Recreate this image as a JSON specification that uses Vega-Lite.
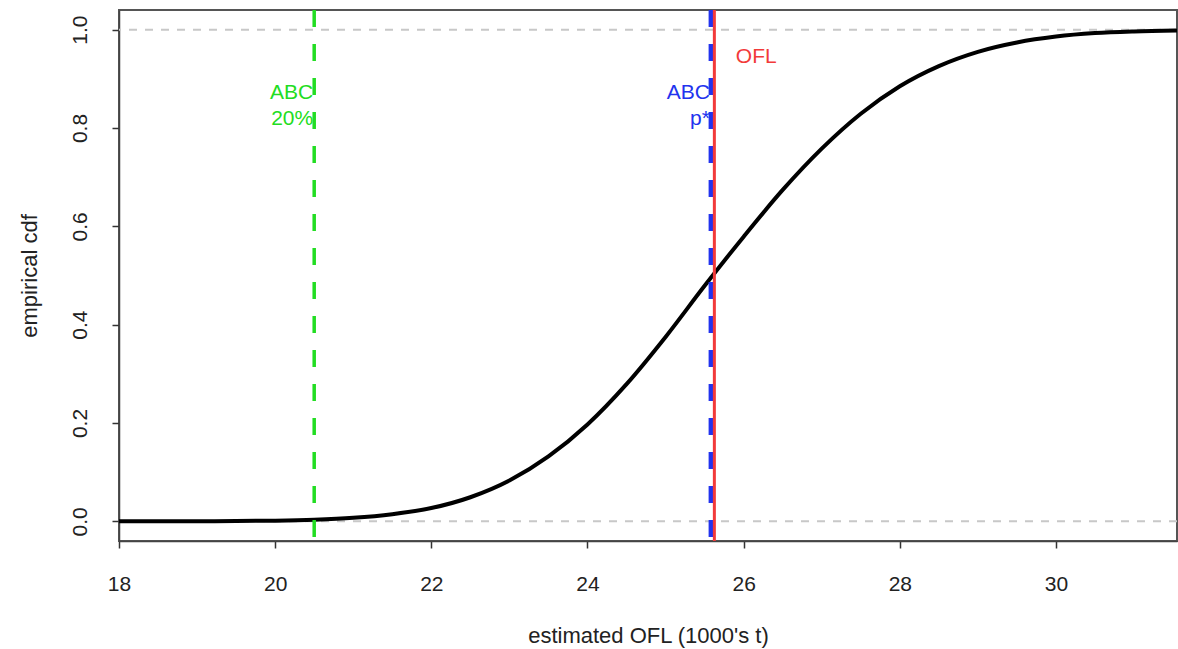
{
  "$schema": "https://vega.github.io/schema/vega-lite/v6.json",
  "width": 1058,
  "height": 531,
  "autosize": "none",
  "padding": {"left": 119, "top": 10, "right": 1, "bottom": 108},
  "background": "white",
  "config": {
    "font": "Liberation Sans",
    "view": {"stroke": "#555555", "strokeWidth": 2},
    "axis": {"grid": false, "labelFlush": false, "labelOverlap": false}
  },
  "datasets": {
    "curve": [
      {"ofl": 18.0, "cdf": 0.0},
      {"ofl": 18.5, "cdf": 0.0},
      {"ofl": 19.0, "cdf": 0.0002},
      {"ofl": 19.5, "cdf": 0.0006},
      {"ofl": 20.0, "cdf": 0.0014},
      {"ofl": 20.5, "cdf": 0.0033},
      {"ofl": 21.0, "cdf": 0.0072},
      {"ofl": 21.5, "cdf": 0.0146},
      {"ofl": 22.0, "cdf": 0.027},
      {"ofl": 22.5, "cdf": 0.049},
      {"ofl": 23.0, "cdf": 0.083},
      {"ofl": 23.5, "cdf": 0.132},
      {"ofl": 24.0, "cdf": 0.197},
      {"ofl": 24.5, "cdf": 0.279},
      {"ofl": 25.0, "cdf": 0.375},
      {"ofl": 25.5, "cdf": 0.479},
      {"ofl": 26.0, "cdf": 0.579},
      {"ofl": 26.5, "cdf": 0.674},
      {"ofl": 27.0, "cdf": 0.758},
      {"ofl": 27.5, "cdf": 0.829},
      {"ofl": 28.0, "cdf": 0.885},
      {"ofl": 28.5, "cdf": 0.926},
      {"ofl": 29.0, "cdf": 0.955},
      {"ofl": 29.5, "cdf": 0.974},
      {"ofl": 30.0, "cdf": 0.986},
      {"ofl": 30.5, "cdf": 0.993},
      {"ofl": 31.0, "cdf": 0.9965},
      {"ofl": 31.55, "cdf": 0.9985}
    ],
    "hlines": [{"cdf": 0}, {"cdf": 1}],
    "labels": [
      {"ofl": 20.5, "cdf": 0.872, "text": "ABC", "group": "abc20", "side": "left"},
      {"ofl": 20.5, "cdf": 0.819, "text": "20%", "group": "abc20", "side": "left"},
      {"ofl": 25.58, "cdf": 0.872, "text": "ABC", "group": "abcp", "side": "left"},
      {"ofl": 25.58, "cdf": 0.819, "text": "p*", "group": "abcp", "side": "left"},
      {"ofl": 25.9, "cdf": 0.945, "text": "OFL", "group": "ofl", "side": "right"}
    ]
  },
  "layer": [
    {
      "data": {"name": "hlines"},
      "mark": {"type": "rule", "color": "#c8c8c8", "strokeWidth": 2, "strokeDash": [8, 8]},
      "encoding": {
        "y": {"field": "cdf", "type": "quantitative", "scale": {"domain": [-0.04, 1.04], "nice": false, "zero": false},
          "axis": {
            "values": [0, 0.2, 0.4, 0.6, 0.8, 1.0], "format": ".1f",
            "title": "empirical cdf", "titleFontSize": 22, "titleFontWeight": "normal", "titleColor": "#222222", "titlePadding": 28,
            "labelFontSize": 21, "labelColor": "#222222", "labelAngle": -90, "labelAlign": "center", "labelBaseline": "bottom", "labelPadding": 22,
            "tickSize": 7, "tickColor": "#333333", "tickWidth": 1.5,
            "domainColor": "#444444", "domainWidth": 1.5
          }
        }
      }
    },
    {
      "data": {"name": "curve"},
      "mark": {"type": "line", "color": "black", "strokeWidth": 4, "interpolate": "monotone"},
      "encoding": {
        "x": {"field": "ofl", "type": "quantitative", "scale": {"domain": [18, 31.55], "nice": false, "zero": false},
          "axis": {
            "values": [18, 20, 22, 24, 26, 28, 30], "format": "d",
            "title": "estimated OFL (1000's t)", "titleFontSize": 22, "titleFontWeight": "normal", "titleColor": "#222222", "titlePadding": 31,
            "labelFontSize": 21, "labelColor": "#222222", "labelPadding": 25,
            "tickSize": 7, "tickColor": "#333333", "tickWidth": 1.5,
            "domainColor": "#444444", "domainWidth": 1.5
          }
        },
        "y": {"field": "cdf", "type": "quantitative"}
      }
    },
    {
      "data": {"values": [{"ofl": 20.5}]},
      "mark": {"type": "rule", "color": "#22dd22", "strokeWidth": 3.5, "strokeDash": [17, 17]},
      "encoding": {"x": {"field": "ofl", "type": "quantitative"}}
    },
    {
      "data": {"values": [{"ofl": 25.58}]},
      "mark": {"type": "rule", "color": "#2233ee", "strokeWidth": 4.5, "strokeDash": [17, 17]},
      "encoding": {"x": {"field": "ofl", "type": "quantitative"}}
    },
    {
      "data": {"values": [{"ofl": 25.625}]},
      "mark": {"type": "rule", "color": "#f23a3a", "strokeWidth": 3},
      "encoding": {"x": {"field": "ofl", "type": "quantitative"}}
    },
    {
      "data": {"name": "labels"},
      "transform": [{"filter": "datum.side === 'left'"}],
      "mark": {"type": "text", "fontSize": 21, "baseline": "middle", "align": "right", "dx": -1},
      "encoding": {
        "x": {"field": "ofl", "type": "quantitative"},
        "y": {"field": "cdf", "type": "quantitative"},
        "text": {"field": "text"},
        "color": {"field": "group", "type": "nominal", "scale": {"domain": ["abc20", "abcp", "ofl"], "range": ["#22dd22", "#2233ee", "#f23a3a"]}, "legend": null}
      }
    },
    {
      "data": {"name": "labels"},
      "transform": [{"filter": "datum.side === 'right'"}],
      "mark": {"type": "text", "fontSize": 21, "baseline": "middle", "align": "left"},
      "encoding": {
        "x": {"field": "ofl", "type": "quantitative"},
        "y": {"field": "cdf", "type": "quantitative"},
        "text": {"field": "text"},
        "color": {"field": "group", "type": "nominal", "scale": {"domain": ["abc20", "abcp", "ofl"], "range": ["#22dd22", "#2233ee", "#f23a3a"]}, "legend": null}
      }
    }
  ]
}
